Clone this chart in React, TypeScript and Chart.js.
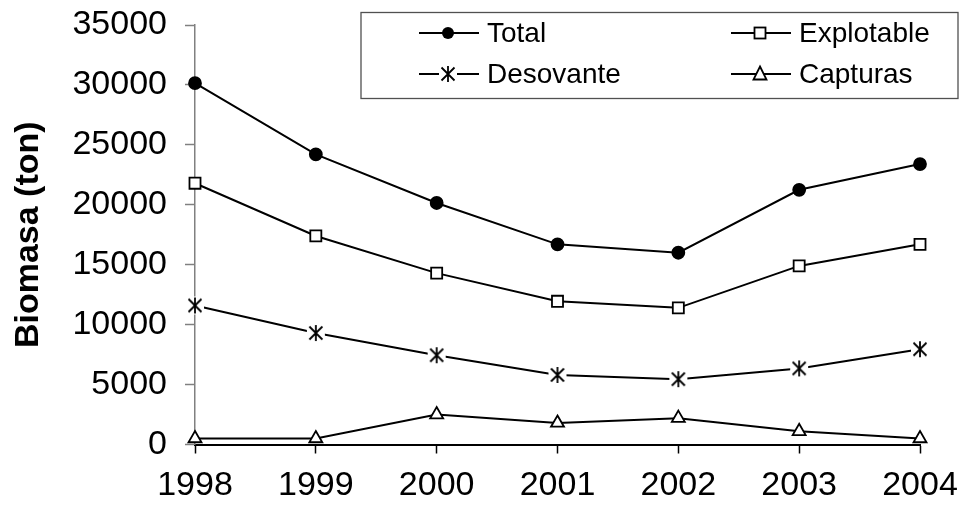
import React, { useEffect, useRef } from 'react';
import { Chart, registerables } from 'chart.js';

Chart.register(...registerables);

const years = ['1998', '1999', '2000', '2001', '2002', '2003', '2004'];
const total = [30150, 24200, 20150, 16700, 16000, 21250, 23400];
const explotable = [21800, 17400, 14300, 11950, 11400, 14900, 16700];
const desovante = [11600, 9300, 7450, 5800, 5450, 6350, 7950];
const capturas = [500, 500, 2500, 1800, 2200, 1100, 500];
const seriesNames = ['Total', 'Explotable', 'Desovante', 'Capturas'];
const yMin = 0;
const yMax = 35000;
const yStep = 5000;
const yTitle = 'Biomasa (ton)';

const FONT = "'Liberation Sans', Arial, sans-serif";

function makeAsterisk(): HTMLCanvasElement {
  const c = document.createElement('canvas');
  c.width = 20;
  c.height = 20;
  const g = c.getContext('2d')!;
  g.fillStyle = '#fff';
  g.fillRect(1, 1, 18, 18);
  g.strokeStyle = '#000';
  g.lineWidth = 1.8;
  g.beginPath();
  g.moveTo(3.5, 3.5); g.lineTo(16.5, 16.5);
  g.moveTo(3.5, 16.5); g.lineTo(16.5, 3.5);
  g.moveTo(10, 2); g.lineTo(10, 18);
  g.stroke();
  return c;
}

function drawMarker(ctx: CanvasRenderingContext2D, kind: string, x: number, y: number, ast: HTMLCanvasElement) {
  ctx.save();
  ctx.lineWidth = 1.8;
  ctx.strokeStyle = '#000';
  if (kind === 'circle') {
    ctx.fillStyle = '#000';
    ctx.beginPath();
    ctx.arc(x, y, 6, 0, Math.PI * 2);
    ctx.fill();
  } else if (kind === 'rect') {
    ctx.fillStyle = '#fff';
    ctx.fillRect(x - 5.5, y - 5.5, 11, 11);
    ctx.strokeRect(x - 5.5, y - 5.5, 11, 11);
  } else if (kind === 'ast') {
    ctx.drawImage(ast, x - 10, y - 10);
  } else if (kind === 'tri') {
    ctx.fillStyle = '#fff';
    ctx.beginPath();
    ctx.moveTo(x, y - 7.5);
    ctx.lineTo(x + 6.5, y + 5.5);
    ctx.lineTo(x - 6.5, y + 5.5);
    ctx.closePath();
    ctx.fill();
    ctx.stroke();
  }
  ctx.restore();
}

export default function App() {
  const ref = useRef<HTMLCanvasElement | null>(null);

  useEffect(() => {
    if (!ref.current) return;
    const ast = makeAsterisk();
    const kinds = ['circle', 'rect', 'ast', 'tri'];

    const legendPlugin = {
      id: 'boxLegend',
      afterDraw(chart: any) {
        const ctx: CanvasRenderingContext2D = chart.ctx;
        ctx.save();
        ctx.fillStyle = '#fff';
        ctx.fillRect(361, 12.5, 597, 86);
        ctx.strokeStyle = '#505050';
        ctx.lineWidth = 1.3;
        ctx.strokeRect(361, 12.5, 597, 86);
        const cols = [419, 731];
        const rows = [33, 74];
        seriesNames.forEach((name, i) => {
          const x0 = cols[i % 2];
          const y0 = rows[Math.floor(i / 2)];
          ctx.strokeStyle = '#000';
          ctx.lineWidth = 2;
          ctx.beginPath();
          ctx.moveTo(x0, y0);
          ctx.lineTo(x0 + 60, y0);
          ctx.stroke();
          drawMarker(ctx, kinds[i], x0 + 29, y0, ast);
          ctx.fillStyle = '#000';
          ctx.font = `28px ${FONT}`;
          ctx.textBaseline = 'middle';
          ctx.textAlign = 'left';
          ctx.fillText(name, x0 + 68, y0 + 1);
        });
        ctx.restore();
      },
    };

    const common = {
      borderColor: '#000',
      borderWidth: 2,
      pointBorderColor: '#000',
      pointBorderWidth: 1.8,
      tension: 0,
      fill: false,
    };

    const chart = new Chart(ref.current, {
      type: 'line',
      data: {
        labels: years,
        datasets: [
          { ...common, label: seriesNames[0], data: total, pointStyle: 'circle', pointRadius: 6, pointBackgroundColor: '#000' },
          { ...common, label: seriesNames[1], data: explotable, pointStyle: 'rect', pointRadius: 7.8, pointBackgroundColor: '#fff' },
          { ...common, label: seriesNames[2], data: desovante, pointStyle: ast as any, pointRadius: 10, pointBackgroundColor: '#fff' },
          { ...common, label: seriesNames[3], data: capturas, pointStyle: 'triangle', pointRadius: 7.5, pointBackgroundColor: '#fff' },
        ],
      },
      options: {
        animation: false,
        responsive: false,
        maintainAspectRatio: false,
        layout: { padding: { top: 25, right: 59, bottom: 0, left: 0 } },
        plugins: {
          legend: { display: false },
          tooltip: { enabled: false },
        },
        scales: {
          x: {
            type: 'category',
            offset: false,
            grid: { drawOnChartArea: false, drawTicks: true, tickLength: 9, tickColor: '#000', tickWidth: 1.5 },
            border: { display: true, color: '#000', width: 2 },
            ticks: { color: '#000', font: { family: FONT, size: 34 }, padding: 12, maxRotation: 0, autoSkip: false },
            afterFit: (s: any) => { s.height = 66.5; s.paddingLeft = 0; s.paddingRight = 0; },
          },
          y: {
            min: yMin,
            max: yMax,
            grid: { drawOnChartArea: false, drawTicks: true, tickLength: 10, tickColor: '#808080', tickWidth: 1.5 },
            border: { display: true, color: '#808080', width: 1.5 },
            ticks: {
              stepSize: yStep,
              color: '#000',
              font: { family: FONT, size: 34 },
              padding: 18,
              callback: (v: any) => String(v),
            },
            title: { display: true, text: yTitle, color: '#000', font: { family: FONT, size: 34, weight: 'bold' }, padding: { top: 8, bottom: 0 } },
            afterFit: (s: any) => { s.width = 195; s.paddingTop = 0; s.paddingBottom = 0; },
          },
        },
      },
      plugins: [legendPlugin],
    });
    return () => chart.destroy();
  }, []);

  return (
    <div style={{ position: 'fixed', left: 0, top: 0, width: 979, height: 511, background: '#fff' }}>
      <canvas ref={ref} width={979} height={511} style={{ width: 979, height: 511, display: 'block' }} />
    </div>
  );
}
